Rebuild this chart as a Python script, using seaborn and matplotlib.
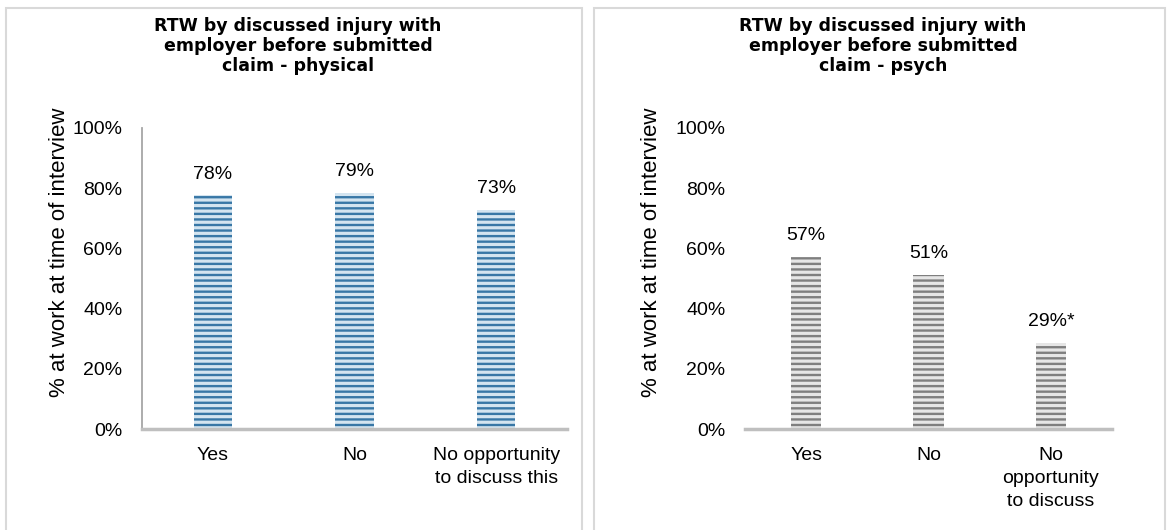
import matplotlib
matplotlib.use("Agg")
import matplotlib.pyplot as plt
import seaborn as sns
from matplotlib.patches import Rectangle
from matplotlib.ticker import FuncFormatter

# ---- data ----
phys_categories = ["Yes", "No", "No opportunity\nto discuss this"]
phys_values = [0.776, 0.785, 0.728]
phys_labels = ["78%", "79%", "73%"]

psych_categories = ["Yes", "No", "No\nopportunity\nto discuss"]
psych_values = [0.572, 0.513, 0.287]
psych_labels = ["57%", "51%", "29%*"]

title_phys = "RTW by discussed injury with\nemployer before submitted\nclaim - physical"
title_psych = "RTW by discussed injury with\nemployer before submitted\nclaim - psych"
ylabel = "% at work at time of interview"
yticks = [0, 0.2, 0.4, 0.6, 0.8, 1.0]

sns.set_theme(style="white")
plt.rcParams["font.family"] = ["Liberation Sans", "DejaVu Sans"]
plt.rcParams["hatch.linewidth"] = 1.7

W, H = 1168, 530
fig = plt.figure(figsize=(W / 100, H / 100), dpi=100)


def fx(px):
    return px / W


def fy(py):
    return 1 - py / H


# panel borders
for x0, x1 in [(6, 582), (594, 1165)]:
    fig.patches.append(Rectangle((fx(x0), fy(531)), fx(x1 - x0), fy(8) - fy(531),
                                 transform=fig.transFigure, fill=False,
                                 edgecolor="#d9d9d9", linewidth=1.5))

specs = [
    dict(left=142, right=567, cats=phys_categories, vals=phys_values, labs=phys_labels,
         face="#d3e4f0", hatchc="#3877a6", width=0.27, title=title_phys, tx=298,
         show_spine=True, ylx=-0.17),
    dict(left=745, right=1112, cats=psych_categories, vals=psych_values, labs=psych_labels,
         face="#e6e6e6", hatchc="#7f7f7f", width=0.25, title=title_psych, tx=883,
         show_spine=False, ylx=-0.226),
]

top_px, bot_px = 128, 429
for s in specs:
    ax = fig.add_axes([fx(s["left"]), fy(bot_px), fx(s["right"] - s["left"]),
                       fy(top_px) - fy(bot_px)])
    sns.barplot(x=s["cats"], y=s["vals"], ax=ax, color=s["face"], width=s["width"],
                saturation=1)
    for p in ax.patches:
        p.set_facecolor(s["face"])
        p.set_edgecolor(s["hatchc"])
        p.set_hatch("---")
        p.set_linewidth(0)
    for p, lab in zip(ax.patches, s["labs"]):
        ax.annotate(lab, (p.get_x() + p.get_width() / 2, p.get_height()),
                    xytext=(0, 9), textcoords="offset points", ha="center", va="bottom",
                    fontsize=14, color="black")
    ax.set_ylim(0, 1.0)
    ax.set_xlim(-0.5, 2.5)
    ax.set_yticks(yticks)
    ax.yaxis.set_major_formatter(FuncFormatter(lambda v, _: f"{v * 100:.0f}%"))
    ax.tick_params(axis="y", length=0, pad=14, labelsize=14, labelcolor="black")
    ax.tick_params(axis="x", length=0, pad=13, labelsize=14, labelcolor="black")
    for lab in ax.get_xticklabels():
        lab.set_linespacing(1.45)
    for sp in ["top", "right"]:
        ax.spines[sp].set_visible(False)
    ax.spines["bottom"].set_color("#bfbfbf")
    ax.spines["bottom"].set_linewidth(2.5)
    if s["show_spine"]:
        ax.spines["left"].set_color("#a6a6a6")
        ax.spines["left"].set_linewidth(1.3)
    else:
        ax.spines["left"].set_visible(False)
    ax.set_ylabel(ylabel, fontsize=16, color="black")
    ax.yaxis.set_label_coords(s["ylx"], 0.588)
    ax.set_xlabel("")
    ax.set_facecolor("white")
    fig.text(fx(s["tx"]), fy(46), s["title"], ha="center", va="center",
             fontsize=12.5, fontweight="bold", color="black", linespacing=1.15,
             family=["DejaVu Sans"])

fig.savefig("out.png", dpi=100, facecolor="white")
